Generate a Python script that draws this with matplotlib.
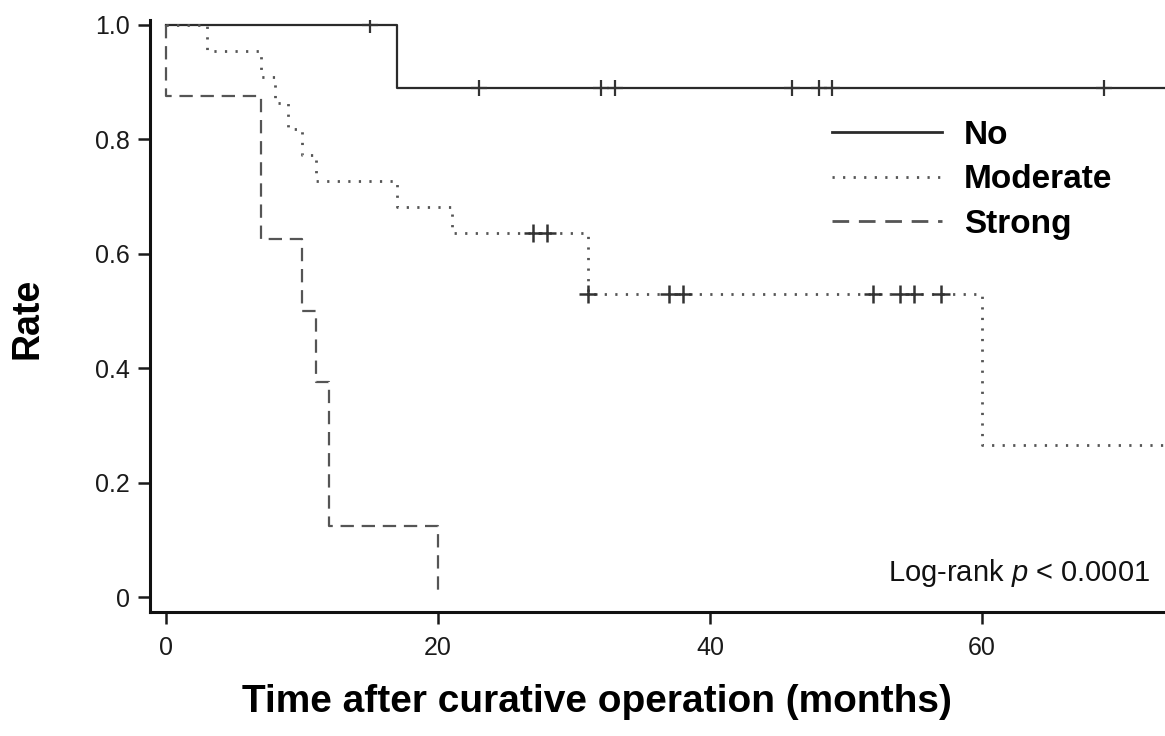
"""Kaplan-Meier style curves by staining intensity."""

import matplotlib
matplotlib.use("Agg")
import matplotlib.pyplot as plt
import numpy as np

plt.rcParams["font.family"] = ["Liberation Sans", "DejaVu Sans"]
plt.rcParams["mathtext.fontset"] = "custom"
plt.rcParams["mathtext.it"] = "Liberation Sans:italic"
plt.rcParams["mathtext.rm"] = "Liberation Sans"

# step curves (time in months, survival rate after the event)
no_times = [0, 17, 75]
no_surv = [1.0, 0.889, 0.889]
no_censored = [15, 23, 32, 33, 46, 48, 49, 69]

mod_times = [0, 3, 7, 8, 9, 10, 11, 17, 21, 31, 60, 75]
mod_surv = [1.0, 0.955, 0.909, 0.864, 0.818, 0.773, 0.727, 0.682, 0.636, 0.530, 0.265, 0.265]
mod_censored = [27, 28, 31, 37, 38, 52, 54, 55, 57]

strong_times = [0, 0, 7, 10, 11, 12, 20]
strong_surv = [1.0, 0.875, 0.625, 0.5, 0.375, 0.125, 0.0]

x_ticks = [0, 20, 40, 60]
y_ticks = [0, 0.2, 0.4, 0.6, 0.8, 1.0]
y_tick_labels = ["0", "0.2", "0.4", "0.6", "0.8", "1.0"]


def _level_at(times, surv, t):
    idx = np.searchsorted(times, t, side="right") - 1
    return np.asarray(surv)[idx]


fig = plt.figure(figsize=(11.65, 7.36), dpi=100)
ax = fig.add_axes([150 / 1165, 124 / 736, 1 - 150 / 1165, (612 - 20) / 736])

ax.plot(no_times, no_surv, drawstyle="steps-post", color="#2b2b2b", lw=1.6,
        label="No")
ax.plot(mod_times, mod_surv, drawstyle="steps-post", color="#555555", lw=2.0,
        linestyle=(0, (0.8, 3.0)), label="Moderate")
ax.plot(strong_times, strong_surv, drawstyle="steps-post", color="#555555", lw=1.6,
        linestyle=(0, (6, 3.5)), label="Strong")

ax.plot(no_censored, _level_at(no_times, no_surv, no_censored), linestyle="none",
        marker="+", markersize=12, markeredgewidth=1.6, color="#333333")
ax.plot(mod_censored, _level_at(mod_times, mod_surv, mod_censored), linestyle="none",
        marker="+", markersize=13, markeredgewidth=1.8, color="#333333")

ax.set_xlim(-1.18, 73.46)
ax.set_ylim(-0.0262, 1.0087)
ax.set_xticks(x_ticks)
ax.set_yticks(y_ticks)
ax.set_yticklabels(y_tick_labels)
ax.tick_params(axis="both", direction="out", length=8.5, width=1.8, labelsize=18,
               color="#1a1a1a", labelcolor="#1a1a1a")
ax.tick_params(axis="x", pad=9)
ax.tick_params(axis="y", pad=6)
for side in ("top", "right"):
    ax.spines[side].set_visible(False)
for side in ("left", "bottom"):
    ax.spines[side].set_linewidth(2.2)
    ax.spines[side].set_color("#111111")

fig.text(28 / 1165, 1 - 318 / 736, "Rate", rotation=90, ha="center", va="center",
         fontsize=27, fontweight="bold")
fig.text(597 / 1165, 1 - 702 / 736, "Time after curative operation (months)",
         ha="center", va="center", fontsize=28, fontweight="bold")

ax.text((1150 - 150) / 1015, (612 - 573) / 592,
        r"Log-rank $\it{p}$ < 0.0001", transform=ax.transAxes, ha="right",
        va="center", fontsize=21, color="#111111")

leg = ax.legend(loc="upper left", bbox_to_anchor=((832 - 150) / 1015, (612 - 120) / 592),
                frameon=False, handlelength=3.3, handletextpad=0.65, labelspacing=0.4,
                borderpad=0, borderaxespad=0,
                prop={"weight": "bold", "size": 24})
for line in leg.get_lines():
    line.set_linewidth(2.0)

fig.savefig("out.png", dpi=100)
